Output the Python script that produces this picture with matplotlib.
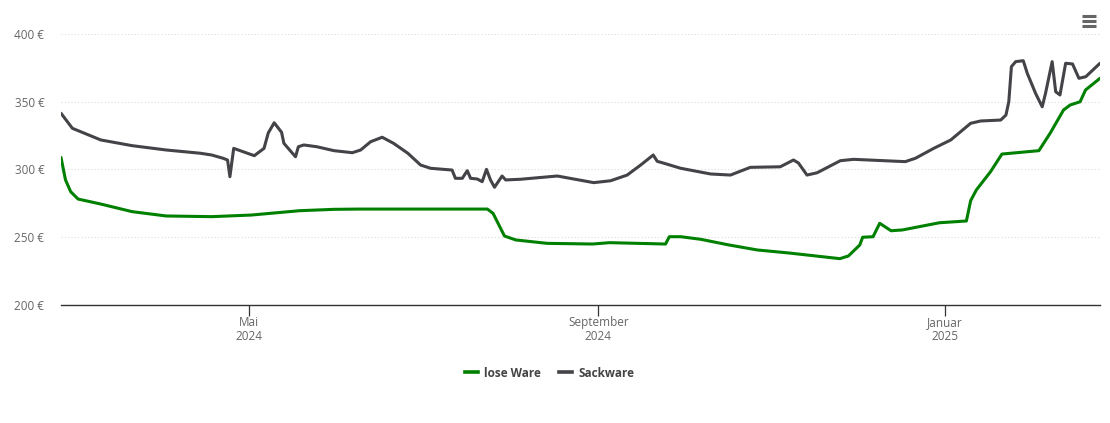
import matplotlib
matplotlib.use("Agg")
import matplotlib.pyplot as plt
import pandas as pd
from matplotlib.lines import Line2D

plt.rcParams['font.family'] = ['Open Sans', 'DejaVu Sans']

# ---- data ----
lose_dates = [
    "2024-02-25", "2024-02-26 14:00", "2024-02-28 10:00", "2024-03-02", "2024-03-10",
    "2024-03-21", "2024-04-02", "2024-04-18", "2024-05-02", "2024-05-19",
    "2024-05-31", "2024-06-09", "2024-07-24", "2024-07-26", "2024-07-30",
    "2024-08-03", "2024-08-14", "2024-08-30", "2024-09-05", "2024-09-24 16:00",
    "2024-09-26", "2024-09-30", "2024-10-07", "2024-10-17", "2024-10-27",
    "2024-11-07", "2024-11-25", "2024-11-28", "2024-12-02", "2024-12-03",
    "2024-12-06 16:00", "2024-12-09", "2024-12-13", "2024-12-17", "2024-12-30",
    "2025-01-08 12:00", "2025-01-10", "2025-01-12", "2025-01-17", "2025-01-21",
    "2025-02-03", "2025-02-07", "2025-02-11 16:00", "2025-02-14", "2025-02-17 12:00",
    "2025-02-19 10:00", "2025-02-24 12:00",
]
lose_values = [
    308.9, 292.3, 283.6, 278.2, 274.5,
    268.9, 265.7, 265.2, 266.4, 269.6,
    270.6, 270.8, 270.8, 267.6, 250.9,
    248.0, 245.5, 245.0, 246.0, 245.0,
    250.4, 250.4, 248.5, 244.3, 240.6,
    238.4, 234.2, 236.2, 244.3, 250.0,
    250.4, 260.3, 254.8, 255.4, 260.7,
    262.0, 277.0, 284.9, 298.4, 311.4,
    313.9, 326.9, 343.9, 347.6, 350.0,
    358.7, 367.3,
]

sack_dates = [
    "2024-02-25", "2024-02-29", "2024-03-10", "2024-03-21", "2024-04-02",
    "2024-04-14", "2024-04-18", "2024-04-22", "2024-04-23 14:00", "2024-04-24 10:00",
    "2024-04-25 18:00", "2024-05-03", "2024-05-06 10:00", "2024-05-07 22:00", "2024-05-10",
    "2024-05-12 14:00", "2024-05-13 10:00",
    "2024-05-17 12:00", "2024-05-18 12:00", "2024-05-20 10:00", "2024-05-25", "2024-05-31",
    "2024-06-06 12:00", "2024-06-09 10:00", "2024-06-12 22:00", "2024-06-17", "2024-06-21",
    "2024-06-26", "2024-06-30 12:00",
    "2024-07-04", "2024-07-11 14:00", "2024-07-12 18:00", "2024-07-15 04:00", "2024-07-16 22:00",
    "2024-07-18 02:00", "2024-07-20 10:00", "2024-07-22 04:00", "2024-07-23 16:00", "2024-07-25 02:00",
    "2024-07-26 12:00", "2024-07-29 04:00", "2024-07-30 10:00", "2024-08-04 16:00", "2024-08-17 14:00",
    "2024-08-30 10:00", "2024-09-05 08:00", "2024-09-11 04:00", "2024-09-15 22:00", "2024-09-20 08:00",
    "2024-09-21 18:00", "2024-09-23 12:00",
    "2024-09-30", "2024-10-10 12:00", "2024-10-17 12:00", "2024-10-24 12:00", "2024-11-04",
    "2024-11-08 16:00", "2024-11-10 10:00", "2024-11-13 10:00", "2024-11-17", "2024-11-25 04:00",
    "2024-11-29 20:00", "2024-12-18", "2024-12-21 14:00", "2024-12-28", "2025-01-03",
    "2025-01-10", "2025-01-13 12:00", "2025-01-20 14:00", "2025-01-22 10:00", "2025-01-23 10:00",
    "2025-01-24 08:00", "2025-01-25 20:00", "2025-01-28 12:00", "2025-01-29 22:00", "2025-02-01 20:00",
    "2025-02-04 04:00", "2025-02-05 08:00", "2025-02-07 16:00", "2025-02-08 22:00", "2025-02-10 10:00",
    "2025-02-12 10:00", "2025-02-14 20:00", "2025-02-17 02:00", "2025-02-19 12:00", "2025-02-24 12:00",
]
sack_values = [
    341.5, 330.4, 321.8, 317.6, 314.4,
    312.0, 310.7, 308.3, 307.0, 294.7,
    315.6, 310.2, 315.6, 327.0, 334.5,
    327.5, 319.3,
    309.4, 316.8, 318.1, 316.8, 313.9,
    312.4, 314.4, 320.5, 323.8, 319.3,
    312.0, 303.3,
    300.9, 299.6, 293.5, 293.5, 299.1,
    293.5, 293.0, 291.0, 300.1, 292.3,
    286.9, 295.2, 292.3, 292.8, 295.2,
    290.3, 291.7, 295.9, 303.3, 310.7,
    306.0, 305.0,
    300.9, 296.7, 295.9, 301.6, 302.0,
    307.0, 304.8, 295.9, 297.6, 306.5,
    307.5, 305.8, 308.3, 315.6, 321.8,
    334.1, 335.8, 336.5, 340.2, 350.0,
    375.9, 379.6, 380.3, 371.0, 356.2,
    346.3, 356.2, 379.6, 357.4, 355.0,
    378.4, 377.9, 367.3, 368.5, 378.4,
]

series_names = ["lose Ware", "Sackware"]
series_colors = ["#008000", "#434348"]

y_ticks = [200, 250, 300, 350, 400]
x_tick_dates = ["2024-05-01", "2024-09-01", "2025-01-01"]
x_tick_labels = ["Mai\n2024", "September\n2024", "Januar\n2025"]
x_start, x_end = "2024-02-25", "2025-02-24 12:00"

# ---- figure ----
W, H = 1110, 423
fig = plt.figure(figsize=(W / 100, H / 100), dpi=100)
ax = fig.add_axes([61 / W, (H - 305) / H, (1100 - 61) / W, (305 - 34) / H])

ld = pd.to_datetime(lose_dates, format="mixed")
sd = pd.to_datetime(sack_dates, format="mixed")
ax.plot(ld, lose_values, color=series_colors[0], lw=2.2, solid_joinstyle='round',
        solid_capstyle='round', zorder=3)
ax.plot(sd, sack_values, color=series_colors[1], lw=2.2, solid_joinstyle='round',
        solid_capstyle='round', zorder=3)

ax.set_xlim(pd.Timestamp(x_start), pd.Timestamp(x_end))
ax.set_ylim(200, 400)

ax.set_yticks(y_ticks)
ax.set_yticklabels([f"{v} €" for v in y_ticks], color="#666666", fontsize=8.5)
ax.yaxis.grid(True, color="#dddddd", linestyle=(0, (1, 2)), lw=0.8)
ax.tick_params(axis='y', length=0, pad=12)
for lbl in ax.get_yticklabels():
    lbl.set_verticalalignment('center_baseline')

ax.set_xticks(pd.to_datetime(x_tick_dates))
ax.set_xticklabels(x_tick_labels, color="#666666", fontsize=8.5, linespacing=1.1)
ax.tick_params(axis='x', length=8, width=0.9, color="#333333", pad=0, direction='out')

for s in ["top", "right", "left"]:
    ax.spines[s].set_visible(False)
ax.spines["bottom"].set_color("#333333")
ax.spines["bottom"].set_linewidth(1.0)
ax.set_axisbelow(True)

handles = [Line2D([0], [0], color=c, lw=2.6) for c in series_colors]
leg = fig.legend(handles, series_names, loc="center", bbox_to_anchor=(0.495, (H - 373) / H),
                 ncol=2, frameon=False, handlelength=1.1, handletextpad=0.5,
                 columnspacing=1.6, prop={"weight": "bold", "size": 8.5})
for t in leg.get_texts():
    t.set_color("#444444")

# hamburger menu icon
for yy in [16, 21, 26]:
    fig.add_artist(Line2D([1082 / W, 1096 / W], [(H - yy) / H, (H - yy) / H],
                          color="#666666", lw=2.2, solid_capstyle='butt'))

fig.savefig("out.png", dpi=100)
